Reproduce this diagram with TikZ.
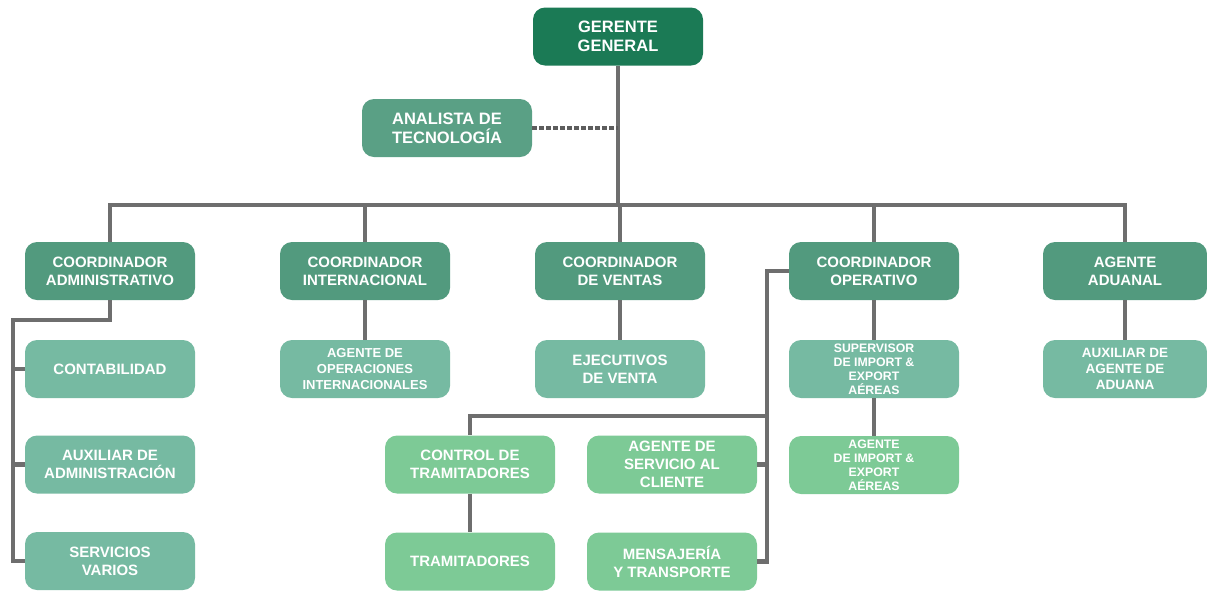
\documentclass[tikz,border=0pt]{standalone}
\usepackage{fontspec}
\setmainfont{Liberation Sans}
\begin{document}
\definecolor{cTop}{HTML}{1B7A55}
\definecolor{cMid}{HTML}{529A7E}
\definecolor{cAna}{HTML}{5AA085}
\definecolor{cTeal}{HTML}{76BAA2}
\definecolor{cLight}{HTML}{7DCA96}
\definecolor{cLine}{HTML}{6E6E6E}
\begin{tikzpicture}[x=1pt,y=-1pt,
  box/.style={rounded corners=12pt, minimum width=170pt, minimum height=58pt,
    inner sep=0pt, align=center, text=white, font=\bfseries\fontsize{15}{18}\selectfont},
  topbox/.style={box, fill=cTop, font=\bfseries\fontsize{16.5}{19}\selectfont},
  anabox/.style={box, fill=cAna, font=\bfseries\fontsize{16.5}{19}\selectfont},
  midbox/.style={box, fill=cMid},
  tealbox/.style={box, fill=cTeal},
  lightbox/.style={box, fill=cLight},
  link/.style={draw=cLine, line width=4.5pt},
  dotlink/.style={draw=cLine!85!black, line width=3.5pt, dash pattern=on 5pt off 2pt}]
\useasboundingbox (0,0) rectangle (1207,590);

% top level
\node[topbox] (gg) at (618,36.5) {GERENTE\\GENERAL};
\node[anabox] (an) at (447,128) {ANALISTA DE\\TECNOLOGÍA};

% coordinators
\node[midbox] (ca) at (110,271) {COORDINADOR\\ADMINISTRATIVO};
\node[midbox] (ci) at (365,271) {COORDINADOR\\INTERNACIONAL};
\node[midbox] (cv) at (620,271) {COORDINADOR\\DE VENTAS};
\node[midbox] (co) at (874,271) {COORDINADOR\\OPERATIVO};
\node[midbox, minimum width=164pt] (aa) at (1125,271) {AGENTE\\ADUANAL};

% administrative branch
\node[tealbox] (ct) at (110,369) {CONTABILIDAD};
\node[tealbox] (ax) at (110,464.5) {AUXILIAR DE\\ADMINISTRACIÓN};
\node[tealbox] (sv) at (110,561) {SERVICIOS\\VARIOS};

% other branches
\node[tealbox, font=\bfseries\fontsize{13}{16}\selectfont] (ao) at (365,369) {AGENTE DE\\OPERACIONES\\INTERNACIONALES};
\node[tealbox] (ej) at (620,369) {EJECUTIVOS\\DE VENTA};
\node[tealbox, font=\bfseries\fontsize{12.3}{14}\selectfont] (su) at (874,369) {SUPERVISOR\\DE IMPORT \&\\EXPORT\\AÉREAS};
\node[lightbox, font=\bfseries\fontsize{12.3}{14}\selectfont] (ia) at (874,465) {AGENTE\\DE IMPORT \&\\EXPORT\\AÉREAS};
\node[tealbox, minimum width=164pt, font=\bfseries\fontsize{13.5}{16}\selectfont] (ad) at (1125,369) {AUXILIAR DE\\AGENTE DE\\ADUANA};

% operative branch
\node[lightbox] (cn) at (470,464.5) {CONTROL DE\\TRAMITADORES};
\node[lightbox] (tr) at (470,561.5) {TRAMITADORES};
\node[lightbox] (as) at (672,464.5) {AGENTE DE\\SERVICIO AL\\CLIENTE};
\node[lightbox] (me) at (672,561.5) {MENSAJERÍA\\Y TRANSPORTE};

% bus and spine coordinates
\coordinate (bus) at (0,205);
\coordinate (ls) at (13,320);
\coordinate (rs) at (767,0);
\coordinate (br) at (767,416);

% main bus
\draw[link] (gg.south) -- (gg.south |- bus);
\draw[link] (ca.north) -- (ca.north |- bus) -- (aa.north |- bus) -- (aa.north);
\draw[link] (ci.north) -- (ci.north |- bus);
\draw[link] (cv.north) -- (cv.north |- bus);
\draw[link] (co.north) -- (co.north |- bus);

% advisory link
\draw[dotlink] (an.east) -- (an.east -| gg.south);

% administrative spine
\draw[link] (ca.south) -- (ca.south |- ls) -- (ls) -- (ls |- sv.west) -- (sv.west);
\draw[link] (ls |- ct.west) -- (ct.west);
\draw[link] (ls |- ax.west) -- (ax.west);

% vertical links
\draw[link] (ci.south) -- (ao.north);
\draw[link] (cv.south) -- (ej.north);
\draw[link] (co.south) -- (su.north);
\draw[link] (su.south) -- (ia.north);
\draw[link] (aa.south) -- (ad.north);
\draw[link] (cn.south) -- (tr.north);

% operative spine
\draw[link] (co.west) -- (co.west -| rs) -- (rs |- me.east) -- (me.east);
\draw[link] (rs |- as.east) -- (as.east);
\draw[link] (br) -- (br -| cn.north) -- (cn.north);
\end{tikzpicture}
\end{document}
